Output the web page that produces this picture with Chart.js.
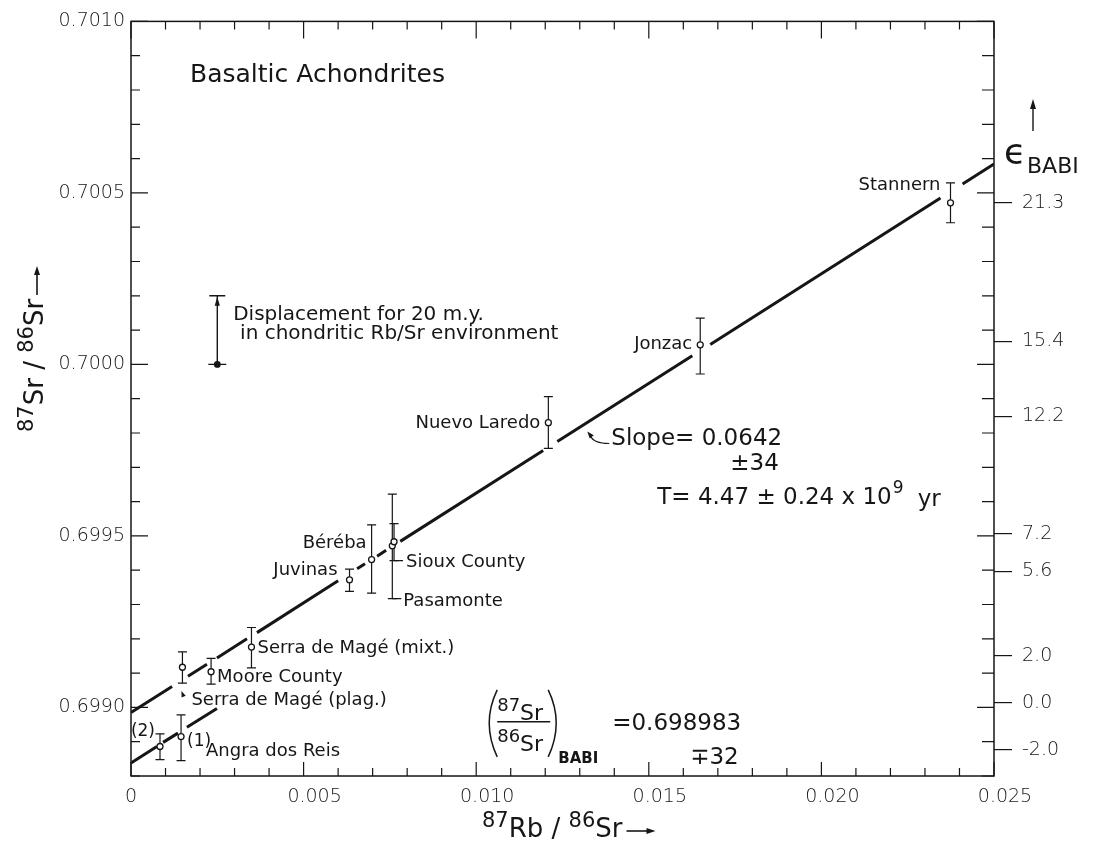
<!DOCTYPE html>
<html><head><meta charset="utf-8">
<script src="https://cdn.jsdelivr.net/npm/chart.js@4.4.1/dist/chart.umd.min.js"></script>
<style>html,body{margin:0;padding:0;background:#fff;}canvas{display:block;}</style>
</head><body>
<canvas id="c" width="1098" height="847"></canvas>
<script>
// ---------- DATA ----------
const names  = ['Angra dos Reis','Angra dos Reis','Serra de Magé (plag.)','Moore County','Serra de Magé (mixt.)','Juvinas','Béréba','Pasamonte','Sioux County','Nuevo Laredo','Jonzac','Stannern'];
const rbSr   = [0.00084,0.00145,0.00149,0.00232,0.00349,0.00633,0.00697,0.00757,0.00762,0.01209,0.01649,0.02374];
const srSr   = [0.698886,0.698915,0.699117,0.699104,0.699176,0.699372,0.699431,0.699471,0.699483,0.699830,0.700057,0.700471];
const srHigh = [0.698923,0.698978,0.699162,0.699143,0.699233,0.699403,0.699532,0.699622,0.699536,0.699906,0.700135,0.700529];
const srLow  = [0.698848,0.698845,0.699071,0.699068,0.699115,0.699338,0.699333,0.699317,0.699428,0.699755,0.699972,0.700413];

// isochron (drafted with breaks around the points)
const upperSegX = [[0,0.00119],[0.00165,0.00220],[0.00249,0.00336],[0.00365,0.00600],[0.00655,0.00678],[0.00713,0.00739],[0.00780,0.01194],[0.01235,0.01626],[0.01678,0.02345],[0.02409,0.025]];
const upperSegY = [[0.698985,0.699061],[0.699091,0.699126],[0.699144,0.699200],[0.699218,0.699369],[0.699404,0.699419],[0.699441,0.699458],[0.699484,0.699749],[0.699775,0.700025],[0.700058,0.700485],[0.700526,0.700584]];
const lowerSegX = [[0,0.00075],[0.00093,0.00136],[0.00162,0.00249]];
const lowerSegY = [[0.698838,0.698886],[0.698898,0.698925],[0.698942,0.698997]];

// displacement marker (20 m.y. in chondritic environment)
const dispX = 0.0025, dispY = [0.7000, 0.7002];

// axes
const xTickValues = [0,0.005,0.010,0.015,0.020,0.025];
const xTickLabels = ['0','0.005','0.010','0.015','0.020','0.025'];
const yTickValues = [0.6990,0.6995,0.7000,0.7005,0.7010];
const yTickLabels = ['0.6990','0.6995','0.7000','0.7005','0.7010'];
const epsTickValues = [21.3,15.4,12.2,7.2,5.6,2.0,0.0,-2.0];
const epsTickLabels = ['21.3','15.4','12.2','7.2','5.6','2.0','0.0','-2.0'];

// ---------- STYLE / LAYOUT ----------
const FAM = '"DejaVu Sans", "Liberation Sans", sans-serif';
const INK = '#161616';
const labelLayout = [
  {i:0, text:'(2)', dx:-5, dy:-15, align:'right', size:17},
  {i:1, text:'(1)', dx:6, dy:5, align:'left', size:17},
  {i:1, dx:25, dy:15, align:'left'},
  {i:2, dx:9, dy:33, align:'left'},
  {i:3, dx:6, dy:6, align:'left'},
  {i:4, dx:6, dy:1, align:'left'},
  {i:5, dx:-12, dy:-9, align:'right'},
  {i:6, dx:-5, dy:-16, align:'right'},
  {i:7, dx:11, dy:55, align:'left'},
  {i:8, dx:12, dy:21, align:'left'},
  {i:9, dx:-8, dy:1, align:'right'},
  {i:10, dx:-8, dy:-1, align:'right'},
  {i:11, dx:-10, dy:-18, align:'right'}
];
const titleAt = {x:0.00171, y:0.700842};
const dispTextAt = [{x:0.00296, y:0.700144}, {x:0.00316, y:0.700088}];
const slopeAt = {x:0.013913, y:0.699781};
const babiAt = {x:0.010319, y:0.698955};

function segData(sx, sy){
  const out=[];
  sx.forEach((s,k)=>{ out.push({x:s[0],y:sy[k][0]},{x:s[1],y:sy[k][1]},{x:s[1],y:null}); });
  return out;
}
function arrowHead(c,x,y,ang,len,w){
  c.beginPath();
  c.moveTo(x,y);
  c.lineTo(x-len*Math.cos(ang)+w*Math.sin(ang), y-len*Math.sin(ang)-w*Math.cos(ang));
  c.lineTo(x-len*Math.cos(ang)-w*Math.sin(ang), y-len*Math.sin(ang)+w*Math.cos(ang));
  c.closePath(); c.fill();
}
function rich(c, parts, x, y, base, sup){
  let cx=x;
  c.textBaseline='alphabetic'; c.textAlign='left';
  for(const p of parts){
    const s = p.sup? sup : base;
    c.font = `${p.w||'normal'} ${s}px ${FAM}`;
    c.fillText(p.t, cx, p.sup ? y-base*0.4 : y);
    cx += c.measureText(p.t).width;
  }
  return cx;
}

const decor = {
  id:'decor',
  beforeDraw(chart){ const c=chart.ctx; c.save(); c.fillStyle='#fff'; c.fillRect(0,0,chart.width,chart.height); c.restore(); },
  beforeDatasetsDraw(chart){
    const c=chart.ctx, xs=chart.scales.x, ys=chart.scales.y;
    c.save(); c.strokeStyle=INK; c.fillStyle=INK; c.lineWidth=1.2;
    rbSr.forEach((v,i)=>{
      const px=xs.getPixelForValue(v), t=ys.getPixelForValue(srHigh[i]), b=ys.getPixelForValue(srLow[i]);
      c.beginPath(); c.moveTo(px,t); c.lineTo(px,b);
      c.moveTo(px-4.5,t); c.lineTo(px+4.5,t);
      c.moveTo(px-4.5,b); c.lineTo(px+4.5,b);
      c.stroke();
    });
    // displacement marker
    const dx=xs.getPixelForValue(dispX), y0=ys.getPixelForValue(dispY[0]), y1=ys.getPixelForValue(dispY[1]);
    c.lineWidth=1.4;
    c.beginPath(); c.moveTo(dx,y0); c.lineTo(dx,y1);
    c.moveTo(dx-8,y1); c.lineTo(dx+8,y1);
    c.moveTo(dx-9,y0); c.lineTo(dx+9,y0); c.stroke();
    arrowHead(c,dx,y1+1,-Math.PI/2,9,2.6);
    c.beginPath(); c.arc(dx,y0,3.4,0,Math.PI*2); c.fill();
    c.restore();
  },
  afterDraw(chart){
    const c=chart.ctx, xs=chart.scales.x, ys=chart.scales.y, a=chart.chartArea;
    const X=v=>xs.getPixelForValue(v), Y=v=>ys.getPixelForValue(v);
    c.save();
    c.strokeStyle=INK; c.fillStyle=INK;
    // frame
    c.lineWidth=1.5;
    c.strokeRect(a.left, a.top, a.right-a.left, a.bottom-a.top);
    // inward ticks
    c.lineWidth=1.2;
    c.beginPath();
    for(let i=0;i<=25;i++){
      const px=X(i*0.001), mj=i%5===0;
      c.moveTo(px,a.top); c.lineTo(px,a.top+(mj?17:8));
      c.moveTo(px,a.bottom); c.lineTo(px,a.bottom-(mj?14:8));
    }
    for(let i=0;i<=22;i++){
      const py=Y(0.6988+i*0.0001), mj=(6988+i)%5===0;
      c.moveTo(a.left,py); c.lineTo(a.left+(mj?17:9),py);
      c.moveTo(a.right,py); c.lineTo(a.right-(mj?17:12),py);
    }
    c.stroke();
    // x tick labels
    c.font=`200 19px ${FAM}`; c.textAlign='center'; c.textBaseline='middle';
    xTickValues.forEach((v,i)=>{ c.fillText(xTickLabels[i], X(v)+(v===0?0:11), a.bottom+21); });

    // x-axis title
    const xt=[{t:'87',sup:true},{t:'Rb'},{t:' / '},{t:'86',sup:true},{t:'Sr'}];
    let ex = rich(c, xt, 482, 837, 26, 21);
    c.lineWidth=1.6; c.beginPath(); c.moveTo(ex+4,831); c.lineTo(ex+30,831); c.stroke();
    arrowHead(c, ex+33, 831, 0, 9, 3);
    // y-axis title
    c.save(); c.translate(43,432); c.rotate(-Math.PI/2);
    ex = rich(c, xt.map(p=>p.t==='Rb'?{t:'Sr'}:p), 0, 0, 26, 21);
    c.beginPath(); c.moveTo(ex+4,-6); c.lineTo(ex+30,-6); c.stroke();
    arrowHead(c, ex+33, -6, 0, 9, 3);
    c.restore();
    // epsilon label
    c.font=`36px ${FAM}`; c.textAlign='left'; c.textBaseline='alphabetic';
    c.fillText('ϵ', 1004, 164);
    c.font=`22px ${FAM}`; c.fillText('BABI', 1027, 173);
    c.lineWidth=1.4; c.beginPath(); c.moveTo(1033,131); c.lineTo(1033,106); c.stroke();
    arrowHead(c,1033,99,-Math.PI/2,10,3);

    // title
    c.font=`25px ${FAM}`; c.textBaseline='middle'; c.textAlign='left';
    c.fillText('Basaltic Achondrites', X(titleAt.x), Y(titleAt.y));
    // displacement text
    c.font=`20px ${FAM}`;
    c.fillText('Displacement for 20 m.y.', X(dispTextAt[0].x), Y(dispTextAt[0].y));
    c.fillText('in chondritic Rb/Sr environment', X(dispTextAt[1].x), Y(dispTextAt[1].y));

    // point labels
    labelLayout.forEach(L=>{
      const px=X(rbSr[L.i]), py=Y(srSr[L.i]);
      c.font=`${L.size||18}px ${FAM}`; c.textAlign=L.align; c.textBaseline='middle';
      c.fillText(L.text||names[L.i], px+L.dx, py+L.dy);
    });
    // leader dashes for Sioux County / Pasamonte
    c.lineWidth=1.2; c.beginPath();
    c.moveTo(X(rbSr[8]), Y(srLow[8])); c.lineTo(X(rbSr[8])+9, Y(srLow[8]));
    c.moveTo(X(rbSr[7]), Y(srLow[7])); c.lineTo(X(rbSr[7])+9, Y(srLow[7]));
    c.stroke();
    // caret under Serra de Magé (plag.)
    {
      const px=X(rbSr[2]), py=Y(srLow[2]);
      arrowHead(c, px-1, py+8, -Math.PI*0.62, 6, 2.2);
    }

    // slope annotation
    const sx=X(slopeAt.x), sy=Y(slopeAt.y);
    c.font=`23px ${FAM}`; c.textAlign='left'; c.textBaseline='middle';
    c.fillText('Slope= 0.0642', sx, sy);
    c.fillText('±34', sx+119, sy+25);
    let tx = sx+46; const ty = sy+59;
    c.fillText('T= 4.47 ± 0.24 x 10', tx, ty);
    tx += c.measureText('T= 4.47 ± 0.24 x 10').width;
    c.font=`17px ${FAM}`; c.fillText('9', tx+1, ty-10);
    c.font=`23px ${FAM}`; c.fillText('yr', tx+26, ty+2);
    c.lineWidth=1.2; c.beginPath(); c.moveTo(sx-2, sy+4); c.quadraticCurveTo(sx-18, sy+4, sx-21, sy-4); c.stroke();
    arrowHead(c, sx-24, sy-8, -Math.PI*0.72, 7, 2.6);

    // BABI initial ratio
    const bx=X(babiAt.x), by=Y(babiAt.y);
    c.lineWidth=1.5; c.beginPath();
    c.moveTo(bx+10, by-33); c.quadraticCurveTo(bx-6, by, bx+10, by+34);
    c.moveTo(bx+61, by-33); c.quadraticCurveTo(bx+77, by, bx+61, by+34);
    c.moveTo(bx+10, by-1); c.lineTo(bx+63, by-1);
    c.stroke();
    rich(c, [{t:'87',sup:true},{t:'Sr'}], bx+10, by-3, 22, 18);
    rich(c, [{t:'86',sup:true},{t:'Sr'}], bx+10, by+28, 22, 18);
    c.font=`bold 15px ${FAM}`; c.textBaseline='alphabetic'; c.fillText('BABI', bx+71, by+40);
    c.font=`23px ${FAM}`; c.textBaseline='middle';
    c.fillText('=0.698983', bx+125, by+1);
    c.fillText('∓32', bx+203, by+35);
    c.restore();
  }
};

const tickFont = {family:'DejaVu Sans', size:19, weight:'200'};
new Chart(document.getElementById('c').getContext('2d'), {
  type:'scatter',
  data:{datasets:[
    {label:'Meteorites', data: rbSr.map((x,i)=>({x, y:srSr[i]})), pointRadius:3, pointBorderWidth:1.3,
     pointBackgroundColor:'#fff', pointBorderColor:INK, showLine:false},
    {label:'Isochron', data: segData(upperSegX, upperSegY), showLine:true, spanGaps:false,
     borderColor:INK, borderWidth:3, pointRadius:0, borderCapStyle:'butt'},
    {label:'Angra dos Reis line', data: segData(lowerSegX, lowerSegY), showLine:true, spanGaps:false,
     borderColor:INK, borderWidth:3, pointRadius:0, borderCapStyle:'butt'}
  ]},
  options:{
    responsive:false, devicePixelRatio:1, animation:false, events:[],
    layout:{padding:{top:17,left:0,right:0,bottom:0}},
    plugins:{legend:{display:false}, tooltip:{enabled:false}},
    scales:{
      x:{type:'linear', position:'bottom', min:0, max:0.025,
         grid:{display:false, drawTicks:false}, border:{display:false}, ticks:{display:false},
         afterFit(s){ s.height=71; }},
      y:{type:'linear', position:'left', min:0.6988, max:0.7010,
         grid:{display:false, drawTicks:false}, border:{display:false},
         afterBuildTicks(s){ s.ticks = yTickValues.map(v=>({value:v})); },
         ticks:{autoSkip:false, callback:(v,i)=>yTickLabels[i], font:tickFont, color:INK, padding:6},
         afterFit(s){ s.width=131; }},
      eps:{type:'linear', position:'right', min:-3.12, max:29.03,
         grid:{display:true, drawOnChartArea:false, drawTicks:true, tickLength:18, color:INK, lineWidth:1.2},
         border:{display:false},
         afterBuildTicks(s){ s.ticks = epsTickValues.map(v=>({value:v})); },
         ticks:{autoSkip:false, callback:(v,i)=>epsTickLabels[i], font:tickFont, color:INK, padding:10},
         afterFit(s){ s.width=104; }}
    }
  },
  plugins:[decor]
});
</script>
</body></html>
